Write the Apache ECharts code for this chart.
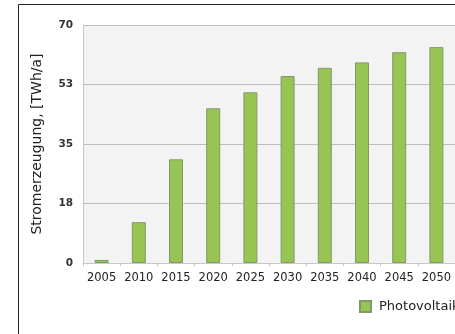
<!DOCTYPE html>
<html>
<head>
<meta charset="utf-8">
<script src="https://cdn.jsdelivr.net/npm/echarts@6/dist/echarts.min.js"></script>
<style>
html,body{margin:0;padding:0;background:#fff;overflow:hidden;}
#c{width:455px;height:334px;}
</style>
</head>
<body>
<div id="c"></div>
<script>
var years = ['2005','2010','2015','2020','2025','2030','2035','2040','2045','2050'];
var pvValues = [0.9, 12, 30.5, 45.5, 50.2, 55, 57.4, 59, 62, 63.5];
var yTickLabels = ['0','18','35','53','70'];
var seriesName = 'Photovoltaik';
var yAxisTitle = 'Stromerzeugung, [TWh/a]';

var chart = echarts.init(document.getElementById('c'), null, {renderer:'canvas'});
chart.setOption({
  animation:false,
  backgroundColor:'#ffffff',
  graphic:[{
    type:'rect', left:16, top:2, z:0, silent:true,
    shape:{width:460, height:340},
    style:{fill:null, stroke:'#222', lineWidth:1}
  }],
  grid:{left:83, top:25, width:379, height:238, show:true, backgroundColor:'#f3f3f3', borderWidth:0},
  legend:{
    left:359, top:300, itemWidth:11, itemHeight:11, padding:0,
    icon:'rect',
    textStyle:{fontFamily:'DejaVu Sans', fontSize:13, color:'#222', padding:[0,0,0,3]},
    data:[seriesName]
  },
  xAxis:{
    type:'category', data:years,
    axisLine:{show:true, lineStyle:{color:'#c8c8c8'}},
    axisTick:{show:true, alignWithLabel:false, length:3, lineStyle:{color:'#d8b8b8'}},
    axisLabel:{fontFamily:'DejaVu Sans', fontSize:11.5, color:'#222', margin:9, interval:0}
  },
  yAxis:{
    type:'value', min:0, max:70, interval:17.5,
    name:yAxisTitle, nameLocation:'middle', nameGap:39, nameRotate:90,
    nameTextStyle:{fontFamily:'DejaVu Sans', fontSize:14, color:'#222'},
    axisLine:{show:true, lineStyle:{color:'#c8c8c8'}},
    axisTick:{show:false},
    axisLabel:{fontFamily:'DejaVu Sans', fontSize:10.5, fontWeight:'bold', color:'#333', margin:10,
      formatter:function(v){return yTickLabels[Math.round(v/17.5)];}},
    splitLine:{show:true, lineStyle:{color:'#bdbdbd', width:1}}
  },
  series:[{
    name:seriesName, type:'bar', data:pvValues, barWidth:14,
    itemStyle:{color:'#98c454', borderColor:'#7f9a6a', borderWidth:1}
  }]
});
</script>
</body>
</html>
